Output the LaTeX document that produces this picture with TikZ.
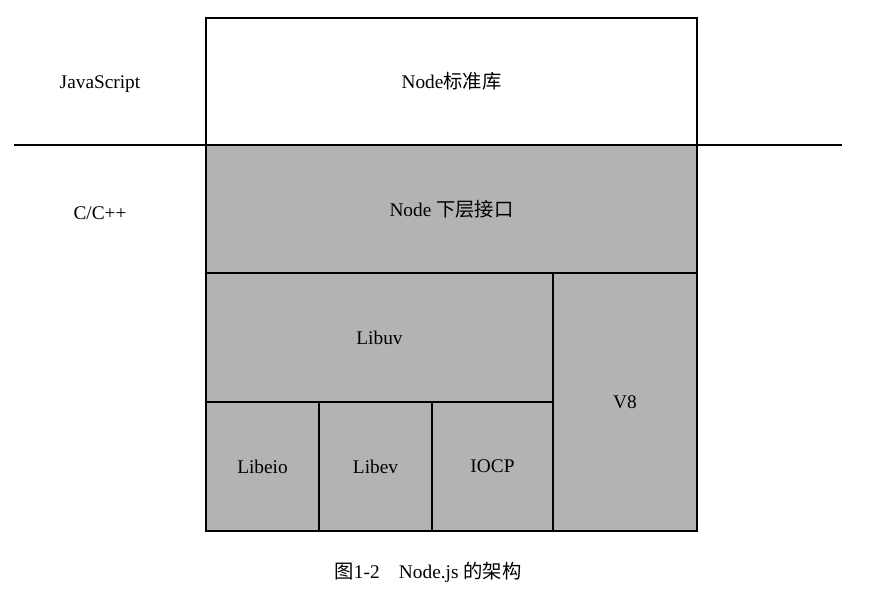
\documentclass[tikz,border=0pt]{standalone}
\usepackage{fontspec}
\setmainfont{Liberation Serif}
\newfontfamily\cjk{Noto Sans CJK SC}
\usetikzlibrary{positioning}
\definecolor{layergray}{HTML}{B3B3B3}
\begin{document}
\begin{tikzpicture}[
        x=0.02cm, y=-0.02cm,
        layer/.style={draw, line width=1.1pt},
        grey/.style={layer, fill=layergray},
        lbl/.style={font=\fontsize{11}{13}\selectfont}
    ]
    \useasboundingbox (0,0) rectangle (887,607);

    % JavaScript layer
    \draw[layer, fill=white] (206,18) rectangle (697,145) node[lbl, midway] (lib) {Node{\cjk 标准库}};

    % C/C++ layers
    \draw[grey] (206,145) rectangle (697,273) node[lbl, midway] (bind) {Node {\cjk 下层接口}};
    \draw[grey] (206,273) rectangle (553,402) node[lbl, midway] (uv) {Libuv};
    \draw[grey] (553,273) rectangle (697,531) node[lbl, midway] (v8) {V8};
    \draw[grey] (206,402) rectangle (319,531) node[lbl, midway] (eio) {Libeio};
    \draw[grey] (319,402) rectangle (432,531) node[lbl, midway] (ev) {Libev};
    \draw[grey] (432,402) rectangle (553,531) node[lbl, midway] (iocp) {IOCP};

    % divider
    \draw[line width=1.1pt] (14,145) -- (842,145);

    % side labels
    \node[lbl] (js) at (100,84) {JavaScript};
    \node[lbl] (cc) at (100,213) {C/C++};

    % caption
    \node[lbl] (cap) at (428,572) {{\cjk 图}1-2\quad Node.js {\cjk 的架构}};
\end{tikzpicture}
\end{document}
